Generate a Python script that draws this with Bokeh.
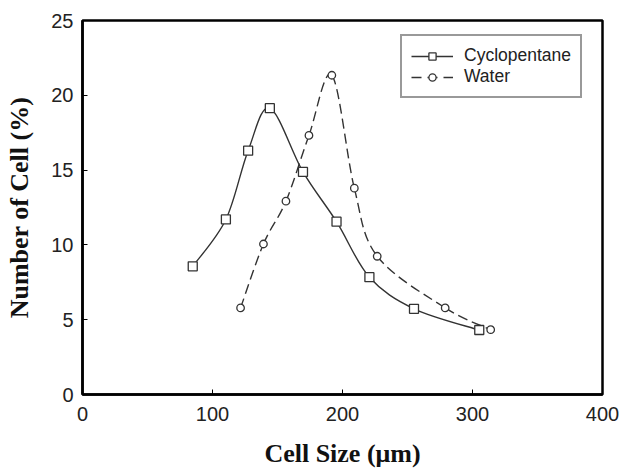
from bokeh.plotting import figure
from bokeh.models import ColumnDataSource, Legend, LegendItem, Range1d, FixedTicker
from bokeh.embed import file_html
from bokeh.resources import INLINE

# Data
cyc_x = [84.8, 110.3, 127.4, 144.1, 169.6, 195.4, 220.7, 255.0, 305.2]
cyc_y = [8.57, 11.7, 16.3, 19.14, 14.88, 11.55, 7.84, 5.73, 4.31]
wat_x = [121.6, 139.2, 156.5, 174.2, 191.8, 209.1, 226.7, 279.0, 314.0]
wat_y = [5.79, 10.06, 12.92, 17.32, 21.34, 13.79, 9.24, 5.79, 4.33]
x_ticks = [0, 100, 200, 300, 400]
y_ticks = [0, 5, 10, 15, 20, 25]
x_title = "Cell Size (\u03bcm)"
y_title = "Number of Cell (%)"


def bezier_source(xs, ys):
    # Catmull-Rom style control points for smooth curves through the data
    n = len(xs)
    d = dict(x0=[], y0=[], x1=[], y1=[], cx0=[], cy0=[], cx1=[], cy1=[])
    for i in range(n - 1):
        xm = xs[i - 1] if i > 0 else xs[i]
        ym = ys[i - 1] if i > 0 else ys[i]
        xp = xs[i + 2] if i + 2 < n else xs[i + 1]
        yp = ys[i + 2] if i + 2 < n else ys[i + 1]
        d["x0"].append(xs[i]); d["y0"].append(ys[i])
        d["x1"].append(xs[i + 1]); d["y1"].append(ys[i + 1])
        d["cx0"].append(xs[i] + (xs[i + 1] - xm) / 6.0)
        d["cy0"].append(ys[i] + (ys[i + 1] - ym) / 6.0)
        d["cx1"].append(xs[i + 1] - (xp - xs[i]) / 6.0)
        d["cy1"].append(ys[i + 1] - (yp - ys[i]) / 6.0)
    return ColumnDataSource(d)


p = figure(width=621, height=470, output_backend="svg", toolbar_location=None,
           x_range=Range1d(0, 400), y_range=Range1d(0, 25),
           min_border_left=82, min_border_right=19, min_border_top=20, min_border_bottom=76)

p.grid.visible = False
p.outline_line_color = "black"
p.outline_line_width = 2.5
p.background_fill_color = "white"
p.border_fill_color = "white"

lc = "#333333"

for ax in (p.xaxis[0], p.yaxis[0]):
    ax.axis_line_width = 2.5
    ax.axis_line_color = "black"
    ax.major_tick_in = 5
    ax.major_tick_out = 0
    ax.minor_tick_in = 0
    ax.minor_tick_out = 0
    ax.major_tick_line_color = "black"
    ax.major_tick_line_width = 1
    ax.major_label_text_font = "Liberation Sans"
    ax.major_label_text_font_size = "20px"
    ax.major_label_text_color = "#222222"
    ax.axis_label_text_font = "Liberation Serif"
    ax.axis_label_text_font_style = "bold"
    ax.axis_label_text_font_size = "26px"
    ax.axis_label_text_color = "#111111"

p.xaxis.ticker = FixedTicker(ticks=x_ticks)
p.yaxis.ticker = FixedTicker(ticks=y_ticks)
p.xaxis.major_label_standoff = 12
p.yaxis.major_label_standoff = 9
p.xaxis.axis_label = x_title
p.yaxis.axis_label = y_title
p.xaxis.axis_label_standoff = 15
p.yaxis.axis_label_standoff = 14

# Curves
p.bezier(x0="x0", y0="y0", x1="x1", y1="y1", cx0="cx0", cy0="cy0", cx1="cx1", cy1="cy1",
         source=bezier_source(cyc_x, cyc_y), line_color=lc, line_width=1.4)
p.bezier(x0="x0", y0="y0", x1="x1", y1="y1", cx0="cx0", cy0="cy0", cx1="cx1", cy1="cy1",
         source=bezier_source(wat_x, wat_y), line_color=lc, line_width=1.4, line_dash="10 5")

sq = p.scatter(cyc_x, cyc_y, marker="square", size=9, fill_color="white",
               line_color=lc, line_width=1.3)
ci = p.scatter(wat_x, wat_y, marker="circle", size=7.5, fill_color="white",
               line_color=lc, line_width=1.3)

# legend helper lines (placed outside the visible range, only shown in the legend)
leg_l1 = p.line(x=[-50, -40], y=[-5, -5], line_color=lc, line_width=1.4)
leg_l2 = p.line(x=[-50, -40], y=[-5, -5], line_color=lc, line_width=1.4, line_dash="10 6")
sq_l = p.scatter(x=[-50], y=[-5], marker="square", size=8, fill_color="white",
                 line_color=lc, line_width=1.3)
ci_l = p.scatter(x=[-50], y=[-5], marker="circle", size=7, fill_color="white",
                 line_color=lc, line_width=1.3)

legend = Legend(items=[LegendItem(label="Cyclopentane", renderers=[leg_l1, sq_l]),
                       LegendItem(label="Water", renderers=[leg_l2, ci_l])],
                location=(318, 296), orientation="vertical",
                border_line_color="#333333", border_line_width=2,
                background_fill_color="white", background_fill_alpha=1,
                label_text_font="Liberation Sans", label_text_font_size="17.5px",
                label_text_color="#222222",
                glyph_width=42, glyph_height=18, label_standoff=11,
                spacing=0, padding=9, margin=0)
p.add_layout(legend, "center")

open("out.html", "w").write(file_html(p, INLINE))
